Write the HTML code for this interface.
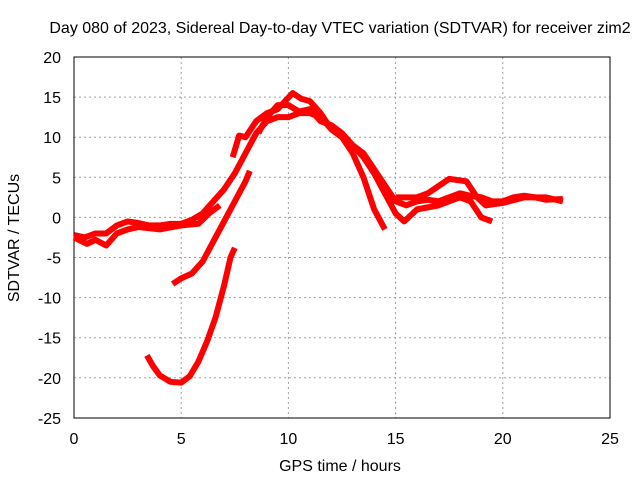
<!DOCTYPE html>
<html><head><meta charset="utf-8"><style>
body{margin:0;background:#fff;font-family:"Liberation Sans",sans-serif}
svg text{font-family:"Liberation Sans",sans-serif;font-size:16px;fill:#000}
</style></head><body>
<svg width="640" height="480">
<text x="340" y="33" text-anchor="middle">Day 080 of 2023, Sidereal Day-to-day VTEC variation (SDTVAR) for receiver zim2</text>
<g id="grid"></g>
<rect x="74" y="57" width="536" height="361" fill="none" stroke="#000"/>
<g id="ticks"></g>
<g id="series"></g>
<text x="340" y="471" text-anchor="middle">GPS time / hours</text>
<text transform="translate(19,238) rotate(-90)" text-anchor="middle">SDTVAR / TECUs</text>
</svg>
<script>
const xTicks=[0,5,10,15,20,25];
const yTicks=[20,15,10,5,0,-5,-10,-15,-20,-25];
const s1=[[3.4,-17.2],[3.7,-18.6],[4.0,-19.7],[4.5,-20.5],[5.0,-20.6],[5.4,-19.8],[5.8,-18],[6.2,-15.5],[6.6,-12.5],[7.0,-8.5],[7.3,-5],[7.5,-3.8]];
const s2=[[4.6,-8.3],[5.0,-7.6],[5.5,-7],[6.0,-5.5],[6.5,-3],[7.0,-0.5],[7.5,2],[8.0,4.5],[8.2,5.8]];
const s3=[[0,-2.2],[0.5,-2.5],[1,-2],[1.5,-2],[2,-1],[2.5,-0.5],[3,-0.7],[3.5,-1],[4,-1],[4.5,-0.8],[5,-0.8],[5.5,-0.3],[6,0.5],[6.5,2],[7,3.5],[7.5,5.5],[8,8],[8.5,10.5],[9,12],[9.5,12.5],[10,12.5],[10.5,13],[11,13],[11.5,12.5],[12,11],[12.5,10],[13,9],[13.5,8],[14,6],[14.5,4],[15,2],[15.5,1.5],[16,2],[16.5,2.2],[17,2],[17.5,2.5],[18,3],[18.5,2.7],[19,2.5],[19.5,2],[20,2],[20.5,2.5],[21,2.7],[21.5,2.5],[22,2.2],[22.8,2.3]];
const s4=[[0,-2.5],[0.6,-3.3],[1,-2.8],[1.5,-3.5],[2,-2],[2.5,-1.5],[3,-1.2],[4,-1.5],[5,-1],[5.8,-0.8],[6.3,0.5],[6.8,1.5]];
const s5=[[7.4,7.5],[7.7,10.2],[8,10],[8.5,12],[9,13],[9.5,13.5],[10.2,15.5],[10.6,14.8],[11,14.5],[11.5,13],[12,11],[12.5,10],[13,8],[13.5,5],[14,1],[14.5,-1.5]];
const s6=[[8.6,10.5],[9,12.5],[9.5,14],[10,14],[10.5,13.2],[11,13.5],[11.5,12],[12,11.5],[12.5,10.5],[13,9],[13.5,7.5],[14,5.5],[14.5,3],[15,0.5],[15.4,-0.5],[16,1],[17,1.5],[18,2.5],[18.5,2],[19,0],[19.5,-0.5]];
const s7=[[15,2.5],[16,2.5],[16.5,3],[17.5,4.8],[18.3,4.5],[18.8,2.5],[19.2,1.5],[20,1.8],[21,2.5],[22,2.5],[22.8,2]];
const X=h=>74+h*21.44, Y=v=>57+(20-v)*8.02;
const NS="http://www.w3.org/2000/svg";
const grid=document.getElementById('grid'), ticks=document.getElementById('ticks'), ser=document.getElementById('series');
function mk(t,a,p){const e=document.createElementNS(NS,t);for(const k in a)e.setAttribute(k,a[k]);p.appendChild(e);return e;}
xTicks.forEach(t=>{
 if(t>0&&t<25){const g=mk('line',{x1:X(t),x2:X(t),y1:57,y2:418,stroke:'#a0a0a0','stroke-dasharray':'2,3'},grid);
 
 }
 const l=mk('text',{x:X(t),y:444,'text-anchor':'middle'},ticks);l.textContent=t;
 
 
});
yTicks.forEach(t=>{
 if(t<20&&t>-25){const g=mk('line',{x1:74,x2:610,y1:Y(t),y2:Y(t),stroke:'#a0a0a0','stroke-dasharray':'2,3'},grid);
 
 }
 const l=mk('text',{x:61,y:Y(t)+6,'text-anchor':'end'},ticks);l.textContent=t;
 
 
});
[s1,s2,s3,s4,s5,s6,s7].forEach((s,i)=>{
 const p=mk('polyline',{points:s.map(d=>X(d[0])+','+Y(d[1])).join(' '),fill:'none',stroke:'#f00','stroke-width':6,'stroke-linejoin':'round'},ser);
 
 
});
</script>
</body></html>
